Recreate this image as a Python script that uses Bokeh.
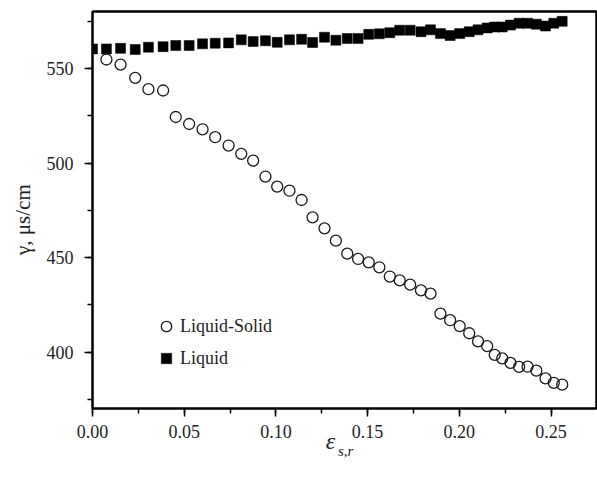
from bokeh.plotting import figure
from bokeh.models import (Range1d, SingleIntervalTicker, FixedTicker, NumeralTickFormatter,
                          Legend, LegendItem, LinearAxis)
from bokeh.embed import file_html
from bokeh.resources import INLINE

# strain values (shared by both series)
strain = [0.0076, 0.0153, 0.0233, 0.0305, 0.0385, 0.0454, 0.0527, 0.0600, 0.0669,
          0.0742, 0.0811, 0.0876, 0.0943, 0.1007, 0.1074, 0.1140, 0.1200, 0.1265,
          0.1327, 0.1389, 0.1448, 0.1506, 0.1564, 0.1621, 0.1675, 0.1732, 0.1791,
          0.1843, 0.1897, 0.1950, 0.2002, 0.2054, 0.2102, 0.2152, 0.2193, 0.2234,
          0.2279, 0.2326, 0.2372, 0.2420, 0.2470, 0.2515, 0.2561]

liquid_solid = [554.8, 552.1, 545.1, 539.1, 538.4, 524.4, 520.7, 517.9, 513.7,
                509.3, 504.9, 501.3, 492.9, 487.6, 485.4, 480.5, 471.3, 465.5,
                459.0, 452.1, 449.3, 447.5, 444.9, 440.0, 438.0, 435.7, 432.7,
                431.0, 420.4, 416.9, 413.8, 410.0, 405.7, 403.2, 398.6, 396.7,
                394.3, 392.2, 392.3, 390.2, 386.1, 383.8, 382.8]

strain_liquid = [0.0] + strain
liquid = [560.4, 560.4, 560.7, 560.1, 561.3, 561.6, 562.2, 562.2, 563.1, 563.4,
          563.6, 565.2, 564.3, 564.7, 563.9, 565.2, 565.5, 563.8, 566.6, 565.0,
          565.9, 565.9, 568.1, 568.4, 569.0, 570.3, 570.3, 569.5, 570.5, 568.5,
          567.5, 568.5, 569.5, 570.5, 571.5, 572.0, 572.0, 573.0, 574.0, 574.0,
          573.5, 572.5, 574.0, 575.0]

labels = ["Liquid-Solid", "Liquid"]
x_title_main = "ε"
x_title_sub = "s,r"
y_title = "γ, μs/cm"

FONT = "Liberation Serif"
INK = "#222222"

p = figure(width=597, height=477, output_backend="svg", toolbar_location=None,
           x_range=Range1d(0, 0.2748), y_range=Range1d(370.2, 580.2),
           min_border_left=92, min_border_right=1, min_border_top=11,
           min_border_bottom=69)

p.background_fill_color = "white"
p.border_fill_color = "white"
p.outline_line_color = "black"
p.outline_line_width = 2
p.xgrid.visible = False
p.ygrid.visible = False

r_sq = p.scatter(strain_liquid, liquid, marker="square", size=10,
                 fill_color="black", line_color="black", line_width=0.5)
r_ci = p.scatter(strain, liquid_solid, marker="circle", size=11,
                 fill_color=None, line_color="#1a1a1a", line_width=1.3)

p.xaxis.ticker = SingleIntervalTicker(interval=0.05, num_minor_ticks=2)
p.yaxis.ticker = SingleIntervalTicker(interval=50, num_minor_ticks=2)
p.xaxis.formatter = NumeralTickFormatter(format="0.00")

for ax in (p.xaxis[0], p.yaxis[0]):
    ax.axis_line_width = 2
    ax.axis_line_color = "black"
    ax.major_tick_out = 8
    ax.major_tick_in = 0
    ax.minor_tick_out = 5
    ax.minor_tick_in = 0
    ax.major_tick_line_width = 1.5
    ax.minor_tick_line_width = 1.5
    ax.major_tick_line_color = "black"
    ax.minor_tick_line_color = "black"
    ax.major_label_text_font = FONT
    ax.major_label_text_font_size = "18px"
    ax.major_label_text_color = INK
p.xaxis.major_label_standoff = 8
p.yaxis.major_label_standoff = 11


def text_axis(pos, tick, text, size, style, standoff, orientation="horizontal"):
    ax = LinearAxis(ticker=FixedTicker(ticks=[tick]),
                    major_label_overrides={tick: text},
                    major_label_text_font=FONT,
                    major_label_text_font_size=size,
                    major_label_text_font_style=style,
                    major_label_text_color=INK,
                    major_label_standoff=standoff,
                    major_label_orientation=orientation,
                    axis_line_color=None, major_tick_line_color=None,
                    minor_tick_line_color=None,
                    major_tick_out=0, major_tick_in=0,
                    minor_tick_out=0, minor_tick_in=0)
    p.add_layout(ax, pos)
    return ax


# x-axis title: italic epsilon with subscript "s,r"
text_axis("below", 0.1298, x_title_main, "24px", "italic", -13)
text_axis("below", 0.138, x_title_sub, "15px", "italic", -14)
# y-axis title
text_axis("left", 470.1, y_title, "21px", "normal", 8, "vertical")

# frame border on top and right
for pos in ("above", "right"):
    b = LinearAxis(ticker=FixedTicker(ticks=[]), axis_line_width=2,
                   axis_line_color="black", major_tick_out=0, major_tick_in=0,
                   minor_tick_out=0, minor_tick_in=0, major_label_standoff=0,
                   major_label_text_font_size="0px")
    p.add_layout(b, pos)

legend = Legend(items=[LegendItem(label=labels[0], renderers=[r_ci]),
                       LegendItem(label=labels[1], renderers=[r_sq])],
                location=(61, 37), glyph_width=26, glyph_height=26,
                label_standoff=1, spacing=6, padding=0, margin=0,
                border_line_color=None, background_fill_alpha=0,
                label_text_font=FONT, label_text_font_size="18px",
                label_text_color=INK)
p.add_layout(legend)

open("out.html", "w").write(file_html(p, INLINE))
